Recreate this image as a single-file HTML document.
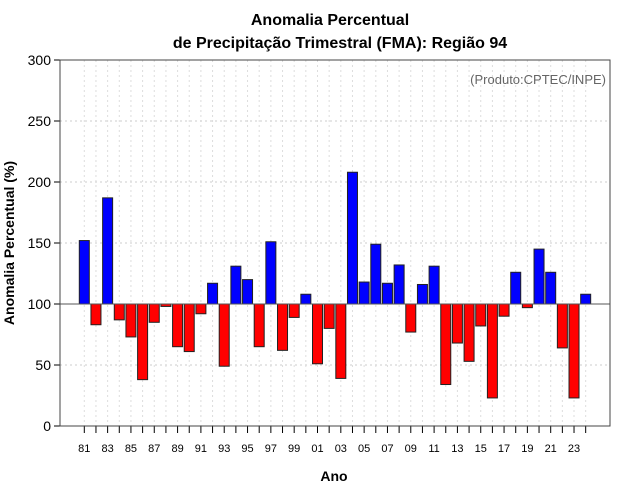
<!DOCTYPE html>
<html><head><meta charset="utf-8"><style>
body{margin:0;background:#fff;font-family:"Liberation Sans",sans-serif}
svg{display:block}
</style></head><body>
<svg id="chart" width="640" height="500" xmlns="http://www.w3.org/2000/svg" font-family="Liberation Sans, sans-serif">
<text x="330" y="25" text-anchor="middle" font-size="16" font-weight="bold">Anomalia Percentual</text>
<text x="340" y="48" text-anchor="middle" font-size="16" font-weight="bold">de Precipitação Trimestral (FMA): Região 94</text>
<g id="grid"></g>
<g id="bars"></g>
<g id="axes"></g>
<text x="606" y="84" text-anchor="end" font-size="13" fill="#666">(Produto:CPTEC/INPE)</text>
<text x="334" y="481" text-anchor="middle" font-size="14" font-weight="bold">Ano</text>
<text transform="translate(14,243) rotate(-90)" text-anchor="middle" font-size="14" font-weight="bold">Anomalia Percentual (%)</text>
</svg>
<script>
const years=[81,82,83,84,85,86,87,88,89,90,91,92,93,94,95,96,97,98,99,0,1,2,3,4,5,6,7,8,9,10,11,12,13,14,15,16,17,18,19,20,21,22,23,24];
const values=[152,83,187,87,73,38,85,98,65,61,92,117,49,131,120,65,151,62,89,108,51,80,39,208,118,149,117,132,77,116,131,34,68,53,82,23,90,126,97,145,126,64,23,108];
const yTicks=[0,50,100,150,200,250,300];
const NS="http://www.w3.org/2000/svg";
const L=60,R=610,T=60,B=426;
const yS=v=>B-(v/300)*(B-T);
const xS=i=>84.3+i*11.66;
function mk(tag,attrs,parent){const e=document.createElementNS(NS,tag);for(const k in attrs)e.setAttribute(k,attrs[k]);parent.appendChild(e);return e;}
const grid=document.getElementById('grid'),bars=document.getElementById('bars'),axes=document.getElementById('axes');
yTicks.forEach(t=>{
  const g=mk('line',{x1:L,x2:R,y1:yS(t),y2:yS(t),stroke:'#ccc','stroke-dasharray':'2,3'},grid);
  
  
  const tk=mk('line',{x1:L-6,x2:L,y1:yS(t),y2:yS(t),stroke:'#000'},axes);
  
  
  const lb=mk('text',{x:L-9,y:yS(t)+5,'text-anchor':'end','font-size':14},axes);
  lb.textContent=t;
  
  
});
years.forEach((y,i)=>{
  const x=xS(i);
  const g=mk('line',{x1:x,x2:x,y1:T,y2:B,stroke:'#ddd','stroke-dasharray':'2,3'},grid);
  
  
  const v=values[i];
  const top=Math.min(yS(v),yS(100)),h=Math.abs(yS(v)-yS(100));
  const r=mk('rect',{x:x-5,y:top,width:10,height:h,fill:v>=100?'#0000ff':'#ff0000',stroke:'#222','stroke-width':1},bars);
  
  
  const tk=mk('line',{x1:x,x2:x,y1:B,y2:B+7,stroke:'#000'},axes);
  
  
  if(i%2===0){
    const lb=mk('text',{x:x,y:B+26,'text-anchor':'middle','font-size':11},axes);
    lb.textContent=String(y).padStart(2,'0');
    
    
  }
});
const bl=mk('line',{x1:L,x2:R,y1:yS(100),y2:yS(100),stroke:'#555','stroke-width':1},axes);


const box=mk('rect',{x:L,y:T,width:R-L,height:B-T,fill:'none',stroke:'#444'},axes);


</script>
</body></html>
